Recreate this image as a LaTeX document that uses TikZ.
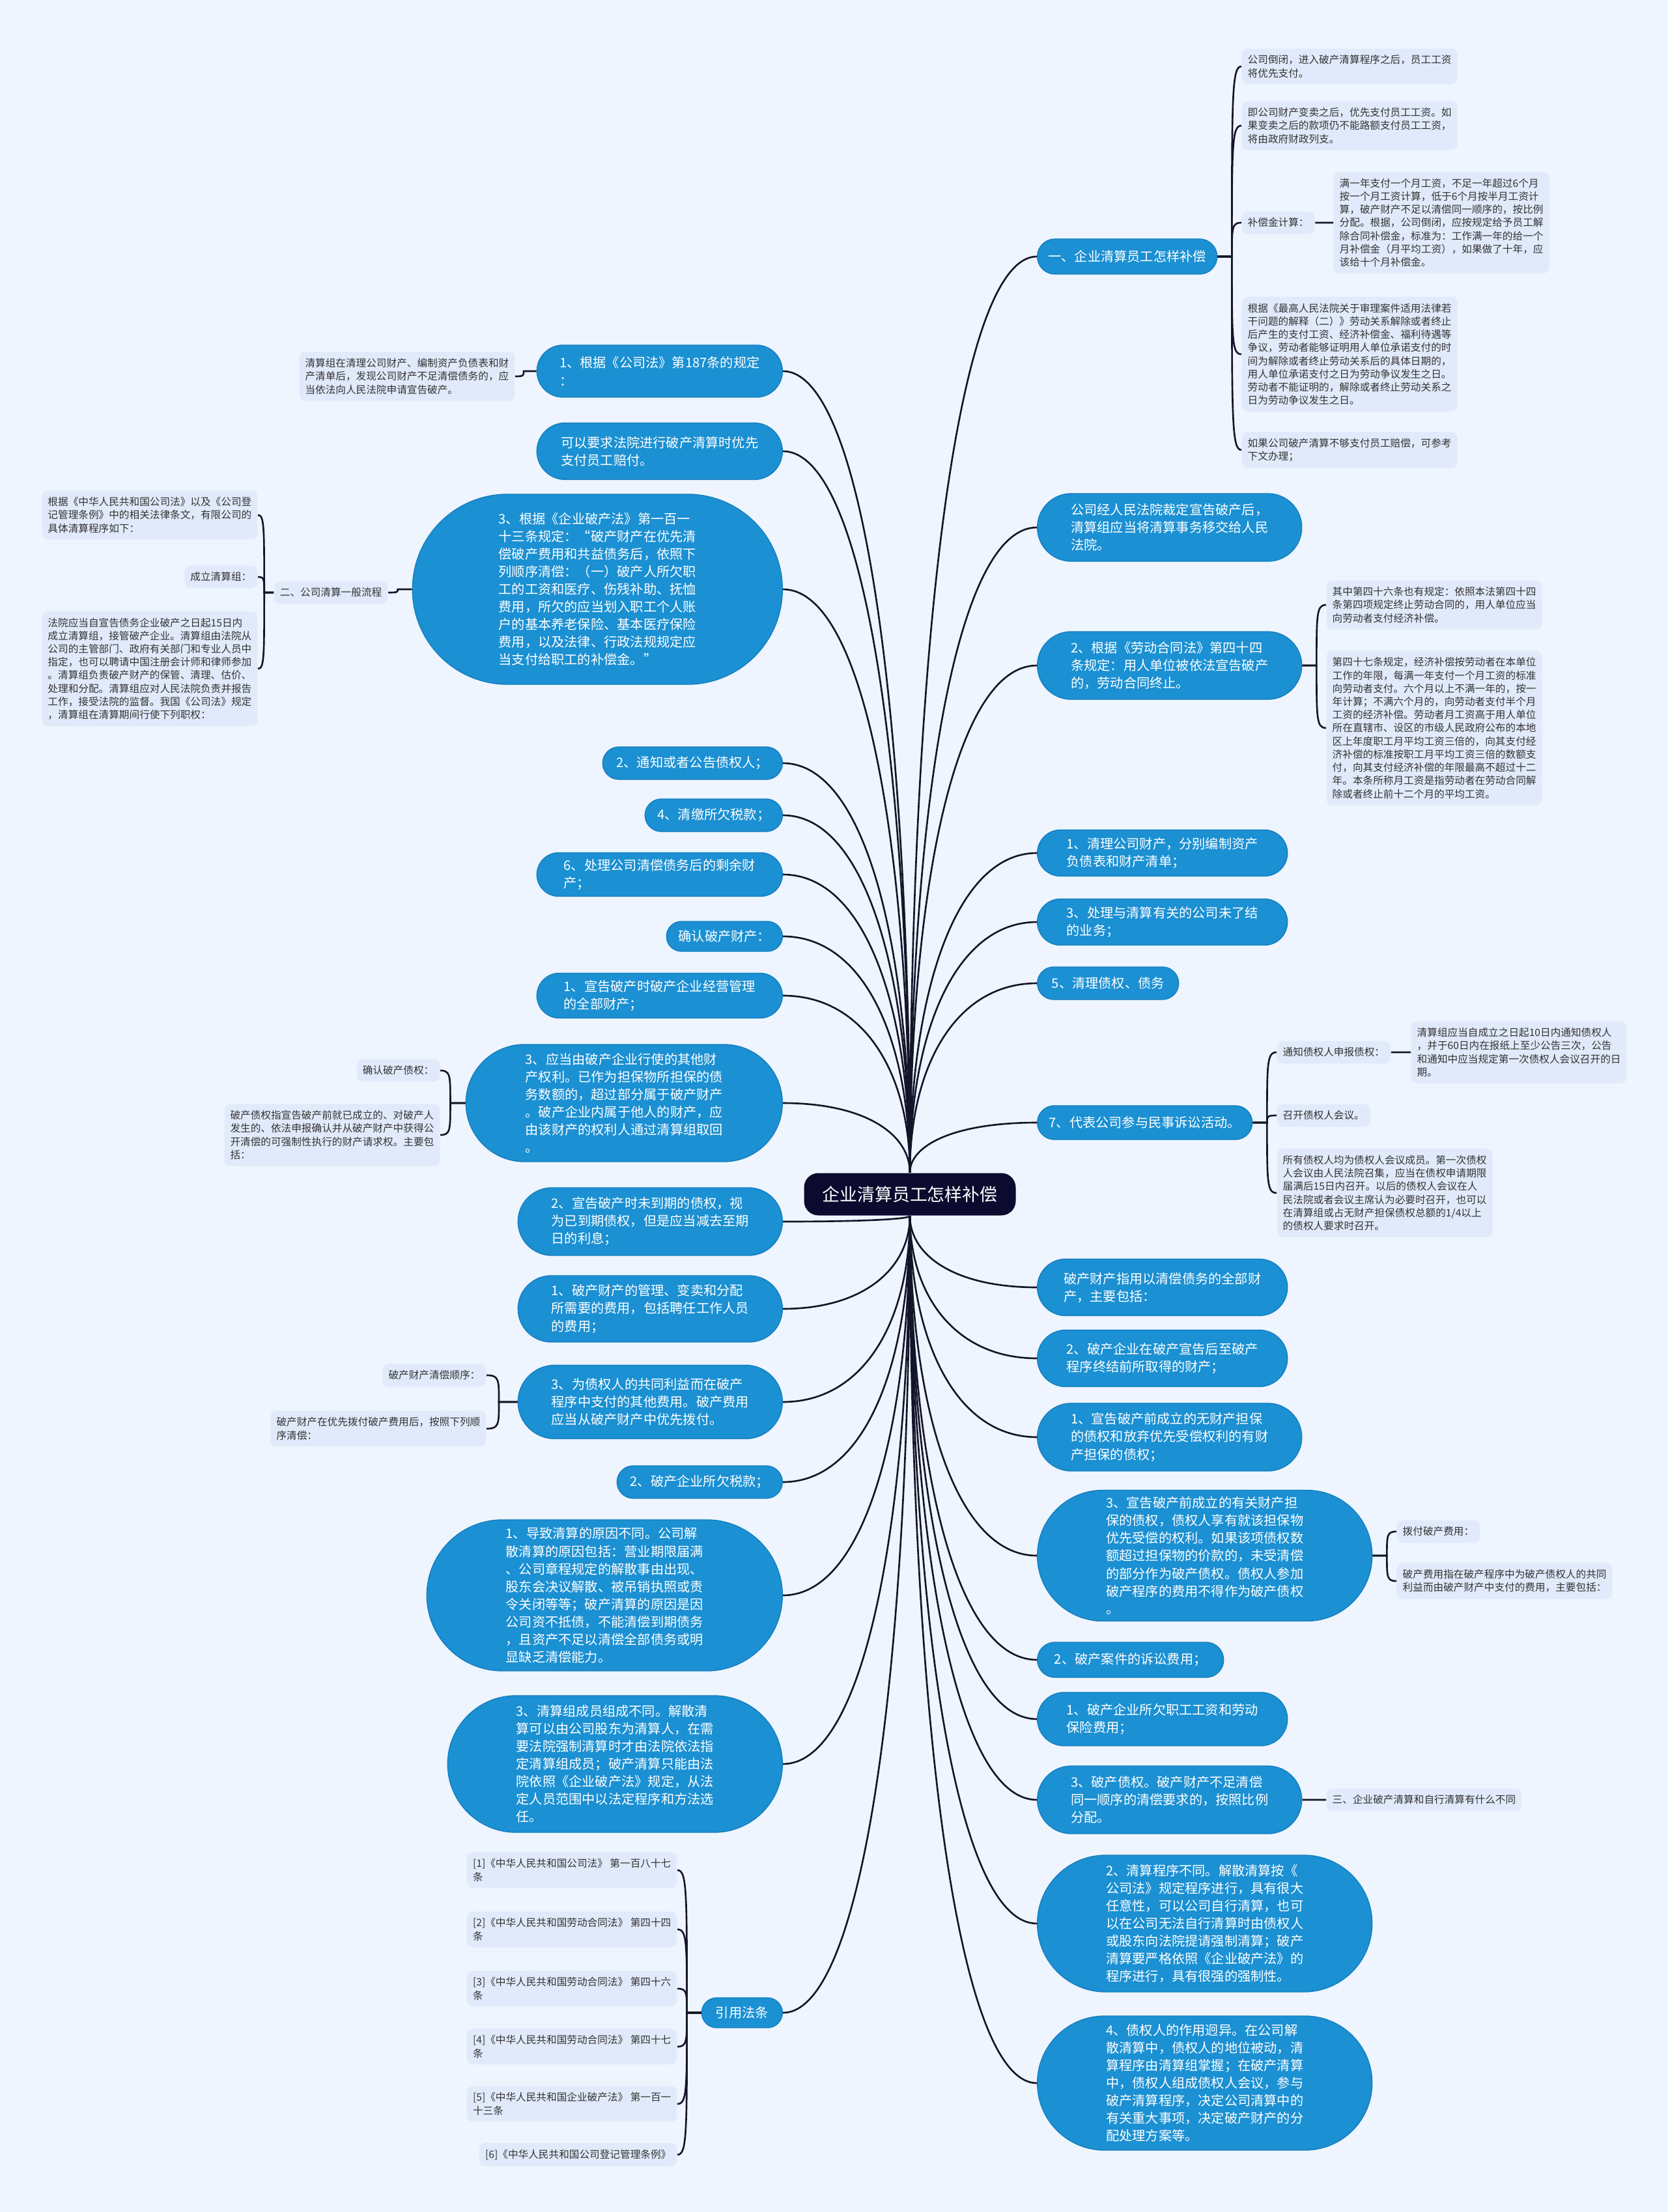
\documentclass[tikz,border=0pt]{standalone}
\usepackage{fontspec}
\setmainfont{Noto Sans CJK SC}
\usepackage{tikz}
\usetikzlibrary{shapes.misc, calc}
\definecolor{pagebg}{RGB}{238,245,254}
\definecolor{topicblue}{RGB}{27,144,211}
\definecolor{topicedge}{RGB}{22,126,190}
\definecolor{leafgray}{RGB}{225,234,250}
\definecolor{leaftext}{RGB}{51,51,51}
\definecolor{hubnavy}{RGB}{12,10,46}
\definecolor{linkcol}{RGB}{20,20,40}

% branch from the hub: vertical start, horizontal finish
\newcommand{\rlink}[2]{\draw[link] (#1) .. controls ($(#1)!0.55!(#1 |- #2)$) and ($(#2)!0.65!(#1 |- #2)$) .. (#2);}
% brace-like twig from a node to its child
\newcommand{\twig}[2]{\draw[link] (#1) -- ($(#1)!0.6!(#1 -| #2)$) coordinate (tw) .. controls ($(tw)!0.85!(tw |- #2)$) and (tw |- #2) .. (#2);}

\begin{document}
\begin{tikzpicture}[x=1mm, y=-1mm,
    topic/.style={rounded rectangle, draw=topicedge, fill=topicblue, text=white,
                  font=\fontsize{5.75}{7.7}\selectfont, align=left, inner sep=0.3mm},
    pillsize/.style 2 args={minimum width=#1mm, minimum height=#2mm},
    leaf/.style={rectangle, rounded corners=0.9mm, fill=leafgray, text=leaftext,
                 font=\fontsize{4.45}{5.75}\selectfont, align=left, inner xsep=0.9mm, inner ysep=1mm},
    hub/.style={rectangle, rounded corners=2.2mm, fill=hubnavy, text=white,
                font=\fontsize{7.65}{9}\selectfont, minimum width=32.5mm, minimum height=6.5mm},
    link/.style={draw=linkcol, line width=0.75pt}
]
    \fill[pagebg] (0,0) rectangle (256,339.7);

    \node[hub] (hub) at (139.7,183.4) {企业清算员工怎样补偿};

    % right branches
    \node[topic, pillsize={28.2}{5.4}, anchor=west] (R1) at (159.2,39.4) {一、企业清算员工怎样补偿};
    \node[topic, pillsize={41.2}{10.4}, anchor=west] (R2) at (159.2,81.0) {公司经人民法院裁定宣告破产后，\\清算组应当将清算事务移交给人民\\法院。};
    \node[topic, pillsize={41.2}{10.4}, anchor=west] (R3) at (159.2,102.2) {2、根据《劳动合同法》第四十四\\条规定：用人单位被依法宣告破产\\的，劳动合同终止。};
    \node[topic, pillsize={39.0}{7.1}, anchor=west] (R4) at (159.2,131.0) {1、清理公司财产，分别编制资产\\负债表和财产清单；};
    \node[topic, pillsize={39.0}{7.1}, anchor=west] (R5) at (159.2,141.6) {3、处理与清算有关的公司未了结\\的业务；};
    \node[topic, pillsize={22.3}{5.0}, anchor=west] (R6) at (159.2,151.0) {5、清理债权、债务};
    \node[topic, pillsize={33.6}{5.2}, anchor=west] (R7) at (159.2,172.4) {7、代表公司参与民事诉讼活动。};
    \node[topic, pillsize={39.0}{8.7}, anchor=west] (R8) at (159.2,197.7) {破产财产指用以清偿债务的全部财\\产，主要包括：};
    \node[topic, pillsize={39.0}{8.7}, anchor=west] (R9) at (159.2,208.6) {2、破产企业在破产宣告后至破产\\程序终结前所取得的财产；};
    \node[topic, pillsize={41.2}{10.4}, anchor=west] (R10) at (159.2,220.7) {1、宣告破产前成立的无财产担保\\的债权和放弃优先受偿权利的有财\\产担保的债权；};
    \node[topic, pillsize={52.0}{20.1}, anchor=west] (R11) at (159.2,238.9) {3、宣告破产前成立的有关财产担\\保的债权，债权人享有就该担保物\\优先受偿的权利。如果该项债权数\\额超过担保物的价款的，未受清偿\\的部分作为破产债权。债权人参加\\破产程序的费用不得作为破产债权\\。};
    \node[topic, pillsize={29.2}{5.4}, anchor=west] (R12) at (159.2,254.9) {2、破产案件的诉讼费用；};
    \node[topic, pillsize={39.0}{8.2}, anchor=west] (R13) at (159.2,264.0) {1、破产企业所欠职工工资和劳动\\保险费用；};
    \node[topic, pillsize={41.2}{10.4}, anchor=west] (R14) at (159.2,276.4) {3、破产债权。破产财产不足清偿\\同一顺序的清偿要求的，按照比例\\分配。};
    \node[topic, pillsize={52.0}{21.0}, anchor=west] (R15) at (159.2,295.4) {2、清算程序不同。解散清算按《\\公司法》规定程序进行，具有很大\\任意性，可以公司自行清算，也可\\以在公司无法自行清算时由债权人\\或股东向法院提请强制清算；破产\\清算要严格依照《企业破产法》的\\程序进行，具有很强的强制性。};
    \node[topic, pillsize={52.0}{20.6}, anchor=west] (R16) at (159.2,319.9) {4、债权人的作用迥异。在公司解\\散清算中，债权人的地位被动，清\\算程序由清算组掌握；在破产清算\\中，债权人组成债权人会议，参与\\破产清算程序，决定公司清算中的\\有关重大事项，决定破产财产的分\\配处理方案等。};

    % left branches
    \node[topic, pillsize={38.3}{8.0}, anchor=east] (L1) at (120.2,57.0) {1、根据《公司法》第187条的规定\\：};
    \node[topic, pillsize={38.3}{8.7}, anchor=east] (L2) at (120.2,69.3) {可以要求法院进行破产清算时优先\\支付员工赔付。};
    \node[topic, pillsize={57.4}{29.2}, anchor=east] (L3) at (120.2,90.5) {3、根据《企业破产法》第一百一\\十三条规定：“破产财产在优先清\\偿破产费用和共益债务后，依照下\\列顺序清偿：（一）破产人所欠职\\工的工资和医疗、伤残补助、抚恤\\费用，所欠的应当划入职工个人账\\户的基本养老保险、基本医疗保险\\费用，以及法律、行政法规规定应\\当支付给职工的补偿金。”};
    \node[topic, pillsize={28.2}{5.0}, anchor=east] (L4) at (120.2,117.2) {2、通知或者公告债权人；};
    \node[topic, pillsize={21.7}{5.0}, anchor=east] (L5) at (120.2,125.2) {4、清缴所欠税款；};
    \node[topic, pillsize={38.3}{6.7}, anchor=east] (L6) at (120.2,134.3) {6、处理公司清偿债务后的剩余财\\产；};
    \node[topic, pillsize={18.4}{4.6}, anchor=east] (L7) at (120.2,143.8) {确认破产财产：};
    \node[topic, pillsize={38.3}{6.9}, anchor=east] (L8) at (120.2,152.9) {1、宣告破产时破产企业经营管理\\的全部财产；};
    \node[topic, pillsize={49.2}{18.0}, anchor=east] (L9) at (120.2,169.4) {3、应当由破产企业行使的其他财\\产权利。已作为担保物所担保的债\\务数额的，超过部分属于破产财产\\。破产企业内属于他人的财产，应\\由该财产的权利人通过清算组取回\\。};
    \node[topic, pillsize={41.2}{10.4}, anchor=east] (L10) at (120.2,187.6) {2、宣告破产时未到期的债权，视\\为已到期债权，但是应当减去至期\\日的利息；};
    \node[topic, pillsize={41.2}{10.2}, anchor=east] (L11) at (120.2,201.0) {1、破产财产的管理、变卖和分配\\所需要的费用，包括聘任工作人员\\的费用；};
    \node[topic, pillsize={41.2}{11.3}, anchor=east] (L12) at (120.2,215.3) {3、为债权人的共同利益而在破产\\程序中支付的其他费用。破产费用\\应当从破产财产中优先拨付。};
    \node[topic, pillsize={26.0}{5.0}, anchor=east] (L13) at (120.2,227.6) {2、破产企业所欠税款；};
    \node[topic, pillsize={55.2}{23.2}, anchor=east] (L14) at (120.2,245.0) {1、导致清算的原因不同。公司解\\散清算的原因包括：营业期限届满\\、公司章程规定的解散事由出现、\\股东会决议解散、被吊销执照或责\\令关闭等等；破产清算的原因是因\\公司资不抵债，不能清偿到期债务\\，且资产不足以清偿全部债务或明\\显缺乏清偿能力。};
    \node[topic, pillsize={52.0}{21.0}, anchor=east] (L15) at (120.2,270.9) {3、清算组成员组成不同。解散清\\算可以由公司股东为清算人，在需\\要法院强制清算时才由法院依法指\\定清算组成员；破产清算只能由法\\院依照《企业破产法》规定，从法\\定人员范围中以法定程序和方法选\\任。};
    \node[topic, pillsize={13.0}{4.6}, anchor=east] (L16) at (120.2,309.1) {引用法条};

    % leaves on the right
    \node[leaf, anchor=west] (R1a) at (190.6,10.2) {公司倒闭，进入破产清算程序之后，员工工资\\将优先支付。};
    \node[leaf, anchor=west] (R1b) at (190.6,19.3) {即公司财产变卖之后，优先支付员工工资。如\\果变卖之后的款项仍不能路额支付员工工资，\\将由政府财政列支。};
    \node[leaf, anchor=west] (R1c) at (190.6,34.2) {补偿金计算：};
    \node[leaf, anchor=west] (R1c1) at (204.7,34.2) {满一年支付一个月工资，不足一年超过6个月\\按一个月工资计算，低于6个月按半月工资计\\算，破产财产不足以清偿同一顺序的，按比例\\分配。根据，公司倒闭，应按规定给予员工解\\除合同补偿金，标准为：工作满一年的给一个\\月补偿金（月平均工资），如果做了十年，应\\该给十个月补偿金。};
    \node[leaf, anchor=west] (R1d) at (190.6,54.4) {根据《最高人民法院关于审理案件适用法律若\\干问题的解释（二）》劳动关系解除或者终止\\后产生的支付工资、经济补偿金、福利待遇等\\争议，劳动者能够证明用人单位承诺支付的时\\间为解除或者终止劳动关系后的具体日期的，\\用人单位承诺支付之日为劳动争议发生之日。\\劳动者不能证明的，解除或者终止劳动关系之\\日为劳动争议发生之日。};
    \node[leaf, anchor=west] (R1e) at (190.6,69.1) {如果公司破产清算不够支付员工赔偿，可参考\\下文办理；};
    \node[leaf, anchor=west] (R3a) at (203.6,92.9) {其中第四十六条也有规定：依照本法第四十四\\条第四项规定终止劳动合同的，用人单位应当\\向劳动者支付经济补偿。};
    \node[leaf, anchor=west] (R3b) at (203.6,111.8) {第四十七条规定，经济补偿按劳动者在本单位\\工作的年限，每满一年支付一个月工资的标准\\向劳动者支付。六个月以上不满一年的，按一\\年计算；不满六个月的，向劳动者支付半个月\\工资的经济补偿。劳动者月工资高于用人单位\\所在直辖市、设区的市级人民政府公布的本地\\区上年度职工月平均工资三倍的，向其支付经\\济补偿的标准按职工月平均工资三倍的数额支\\付，向其支付经济补偿的年限最高不超过十二\\年。本条所称月工资是指劳动者在劳动合同解\\除或者终止前十二个月的平均工资。};
    \node[leaf, anchor=west] (R7a) at (196.0,161.6) {通知债权人申报债权：};
    \node[leaf, anchor=west] (R7a1) at (216.6,161.6) {清算组应当自成立之日起10日内通知债权人\\，并于60日内在报纸上至少公告三次，公告\\和通知中应当规定第一次债权人会议召开的日\\期。};
    \node[leaf, anchor=west] (R7b) at (196.0,171.3) {召开债权人会议。};
    \node[leaf, anchor=west] (R7c) at (196.0,183.2) {所有债权人均为债权人会议成员。第一次债权\\人会议由人民法院召集，应当在债权申请期限\\届满后15日内召开。以后的债权人会议在人\\民法院或者会议主席认为必要时召开，也可以\\在清算组或占无财产担保债权总额的1/4以上\\的债权人要求时召开。};
    \node[leaf, anchor=west] (R11a) at (214.4,235.2) {拨付破产费用：};
    \node[leaf, anchor=west] (R11b) at (214.4,242.8) {破产费用指在破产程序中为破产债权人的共同\\利益而由破产财产中支付的费用，主要包括：};
    \node[leaf, anchor=west] (R14a) at (203.6,276.4) {三、企业破产清算和自行清算有什么不同};

    % leaves on the left
    \node[leaf, anchor=east] (L1a) at (79.1,57.8) {清算组在清理公司财产、编制资产负债表和财\\产清单后，发现公司财产不足清偿债务的，应\\当依法向人民法院申请宣告破产。};
    \node[leaf, anchor=east] (L3a) at (59.6,91.0) {二、公司清算一般流程};
    \node[leaf, anchor=east] (L3a1) at (39.6,79.1) {根据《中华人民共和国公司法》以及《公司登\\记管理条例》中的相关法律条文，有限公司的\\具体清算程序如下：};
    \node[leaf, anchor=east] (L3a2) at (39.6,88.6) {成立清算组：};
    \node[leaf, anchor=east] (L3a3) at (39.6,102.7) {法院应当自宣告债务企业破产之日起15日内\\成立清算组，接管破产企业。清算组由法院从\\公司的主管部门、政府有关部门和专业人员中\\指定，也可以聘请中国注册会计师和律师参加\\。清算组负责破产财产的保管、清理、估价、\\处理和分配。清算组应对人民法院负责并报告\\工作，接受法院的监督。我国《公司法》规定\\，清算组在清算期间行使下列职权：};
    \node[leaf, anchor=east] (L9a) at (67.6,164.4) {确认破产债权：};
    \node[leaf, anchor=east] (L9b) at (67.6,174.3) {破产债权指宣告破产前就已成立的、对破产人\\发生的、依法申报确认并从破产财产中获得公\\开清偿的可强制性执行的财产请求权。主要包\\括：};
    \node[leaf, anchor=east] (L12a) at (74.7,211.2) {破产财产清偿顺序：};
    \node[leaf, anchor=east] (L12b) at (74.7,219.4) {破产财产在优先拨付破产费用后，按照下列顺\\序清偿：};
    \node[leaf, anchor=east] (ref1) at (104.0,287.2) {[1]《中华人民共和国公司法》 第一百八十七\\条};
    \node[leaf, anchor=east] (ref2) at (104.0,296.3) {[2]《中华人民共和国劳动合同法》 第四十四\\条};
    \node[leaf, anchor=east] (ref3) at (104.0,305.4) {[3]《中华人民共和国劳动合同法》 第四十六\\条};
    \node[leaf, anchor=east] (ref4) at (104.0,314.3) {[4]《中华人民共和国劳动合同法》 第四十七\\条};
    \node[leaf, anchor=east] (ref5) at (104.0,323.1) {[5]《中华人民共和国企业破产法》 第一百一\\十三条};
    \node[leaf, anchor=east] (ref6) at (104.0,330.9) {[6]《中华人民共和国公司登记管理条例》};

    % hub to branches
    \foreach \n in {R1,R2,R3,R4,R5,R6,R7}
        \rlink{hub.north}{\n.west};
    \foreach \n in {R8,R9,R10,R11,R12,R13,R14,R15,R16}
        \rlink{hub.south}{\n.west};
    \foreach \n in {L1,L2,L3,L4,L5,L6,L7,L8,L9}
        \rlink{hub.north}{\n.east};
    \foreach \n in {L10,L11,L12,L13,L14,L15,L16}
        \rlink{hub.south}{\n.east};

    % twigs
    \foreach \c in {R1a,R1b,R1c,R1d,R1e}
        \twig{R1.east}{\c.west};
    \twig{R1c.east}{R1c1.west};
    \foreach \c in {R3a,R3b}
        \twig{R3.east}{\c.west};
    \foreach \c in {R7a,R7b,R7c}
        \twig{R7.east}{\c.west};
    \twig{R7a.east}{R7a1.west};
    \foreach \c in {R11a,R11b}
        \twig{R11.east}{\c.west};
    \twig{R14.east}{R14a.west};
    \twig{L1.west}{L1a.east};
    \twig{L3.west}{L3a.east};
    \foreach \c in {L3a1,L3a2,L3a3}
        \twig{L3a.west}{\c.east};
    \foreach \c in {L9a,L9b}
        \twig{L9.west}{\c.east};
    \foreach \c in {L12a,L12b}
        \twig{L12.west}{\c.east};
    \foreach \c in {ref1,ref2,ref3,ref4,ref5,ref6}
        \twig{L16.west}{\c.east};
\end{tikzpicture}
\end{document}
